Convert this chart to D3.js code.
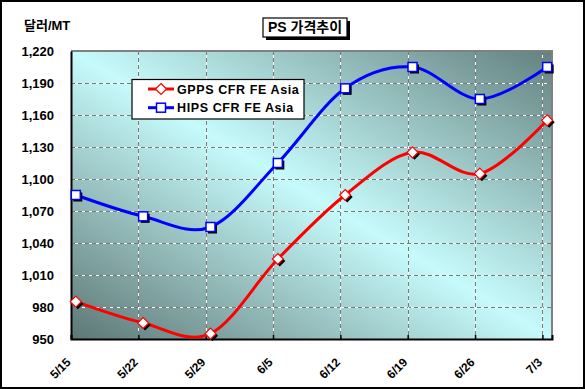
<!DOCTYPE html>
<html>
<head>
<meta charset="utf-8">
<script src="https://cdn.jsdelivr.net/npm/d3@7"></script>
<style>
  html, body { margin: 0; padding: 0; background: #fff; }
  svg { display: block; }
  text { font-family: "Liberation Sans", Arial, "Noto Sans CJK KR", sans-serif; font-weight: bold; fill: #000; }
</style>
</head>
<body>
<div id="chart"></div>
<script>
// data
const dates = ['5/15', '5/22', '5/29', '6/5', '6/12', '6/19', '6/26', '7/3'];
const gpps = [985, 965, 955, 1025, 1085, 1125, 1105, 1155];
const hips = [1085, 1065, 1055, 1115, 1185, 1205, 1175, 1205];
const yTicks = [950, 980, 1010, 1040, 1070, 1100, 1130, 1160, 1190, 1220];
const seriesNames = ['GPPS CFR FE Asia', 'HIPS CFR FE Asia'];

const W = 585, H = 389;
const plot = { left: 71, right: 552, top: 51, bottom: 339 };

const parse = d3.timeParse('%m/%d');
const day0 = parse(dates[0]);
const days = dates.map(d => d3.timeDay.count(day0, parse(d)));

const svg = d3.select('#chart').append('svg')
    .attr('width', W)
    .attr('height', H);

// outer frame
svg.append('rect')
    .attr('x', 1).attr('y', 1)
    .attr('width', W - 2).attr('height', H - 2)
    .attr('fill', '#fff')
    .attr('stroke', '#000')
    .attr('stroke-width', 2);

const x = d3.scaleLinear()
    .domain([days[0] - 0.5, days[days.length - 1] + 0.5])
    .range([plot.left, plot.right]);

const y = d3.scaleLinear()
    .domain([yTicks[0], yTicks[yTicks.length - 1]])
    .range([plot.bottom, plot.top]);

// plot background gradient
const defs = svg.append('defs');
const grad = defs.append('linearGradient')
    .attr('id', 'bg')
    .attr('x1', 0).attr('y1', 1)
    .attr('x2', 1).attr('y2', 0);
grad.append('stop').attr('offset', '0%').attr('stop-color', '#5d7775');
grad.append('stop').attr('offset', '50%').attr('stop-color', '#c6fbfb');
grad.append('stop').attr('offset', '100%').attr('stop-color', '#63817f');

svg.append('rect')
    .attr('x', plot.left).attr('y', plot.top)
    .attr('width', plot.right - plot.left)
    .attr('height', plot.bottom - plot.top)
    .attr('fill', 'url(#bg)');

// grid lines: white under grey dashes
const grid = svg.append('g');
const hLines = yTicks.slice(1);
hLines.forEach(v => {
    [['#fff', null], ['#7a7a7a', '4,3']].forEach(([c, dash]) => {
        grid.append('line')
            .attr('x1', plot.left).attr('x2', plot.right)
            .attr('y1', Math.round(y(v)) + 0.5).attr('y2', Math.round(y(v)) + 0.5)
            .attr('stroke', c)
            .attr('stroke-dasharray', dash);
    });
});
days.slice(1).forEach(d => {
    const gx = Math.round(x(d - 0.5)) + 0.5;
    [['#fff', null], ['#7a7a7a', '4,3']].forEach(([c, dash]) => {
        grid.append('line')
            .attr('x1', gx).attr('x2', gx)
            .attr('y1', plot.top).attr('y2', plot.bottom)
            .attr('stroke', c)
            .attr('stroke-dasharray', dash);
    });
});

// plot border top/right grey
svg.append('path')
    .attr('d', `M${plot.left},${plot.top}H${plot.right}V${plot.bottom}`)
    .attr('fill', 'none')
    .attr('stroke', '#808080')
    .attr('stroke-width', 2);

// axes
const yAxis = svg.append('g')
    .attr('transform', `translate(${plot.left},0)`)
    .call(d3.axisLeft(y).tickValues(yTicks).tickFormat(d3.format(',')).tickSize(0).tickPadding(17));
yAxis.select('.domain').attr('stroke', '#000').attr('stroke-width', 2);
yAxis.selectAll('text')
    .style('font-size', '13px')
    .style('font-family', '"Liberation Sans", Arial, sans-serif')
    .style('font-weight', 'bold');

const xAxis = svg.append('g')
    .attr('transform', `translate(0,${plot.bottom})`)
    .call(d3.axisBottom(x).tickValues(days.map(d => d - 0.5)).tickFormat((d, i) => dates[i]).tickSize(-4));
xAxis.select('.domain').attr('stroke', '#000').attr('stroke-width', 2);
xAxis.selectAll('.tick line').attr('stroke', '#000').attr('stroke-width', 1.5);
xAxis.selectAll('text')
    .attr('y', 0).attr('dy', 0)
    .attr('text-anchor', 'end')
    .attr('transform', 'translate(0,24) rotate(-45)')
    .style('font-size', '12px')
    .style('font-family', '"Liberation Sans", Arial, sans-serif')
    .style('font-weight', 'bold');

// y axis unit
svg.append('text')
    .attr('x', 24).attr('y', 30)
    .style('font-size', '13px')
    .text('달러/MT');

// lines
const lineGen = d3.line()
    .x((v, i) => x(days[i]))
    .y(v => y(v))
    .curve(d3.curveCardinal.tension(0));

const series = [
    { name: seriesNames[0], values: gpps, color: '#ff0000', marker: 'diamond' },
    { name: seriesNames[1], values: hips, color: '#0000ff', marker: 'square' }
];

function drawMarker(g, type, cx, cy, color, shadow) {
    if (type === 'diamond') {
        const r = 5.5;
        const p = (dx, dy) => `M${cx + dx},${cy - r + dy}L${cx + r + dx},${cy + dy}L${cx + dx},${cy + r + dy}L${cx - r + dx},${cy + dy}Z`;
        if (shadow) g.append('path').attr('d', p(2, 2)).attr('fill', '#000');
        g.append('path').attr('d', p(0, 0)).attr('fill', '#fff').attr('stroke', color).attr('stroke-width', 1.2);
    } else {
        const s = 9;
        if (shadow) g.append('rect').attr('x', cx - s / 2 + 2).attr('y', cy - s / 2 + 2).attr('width', s).attr('height', s).attr('fill', '#000');
        g.append('rect').attr('x', cx - s / 2).attr('y', cy - s / 2).attr('width', s).attr('height', s)
            .attr('fill', '#fff').attr('stroke', color).attr('stroke-width', 1.5);
    }
}

series.slice().reverse().forEach(s => {
    svg.append('path')
        .datum(s.values)
        .attr('d', lineGen)
        .attr('fill', 'none')
        .attr('stroke', s.color)
        .attr('stroke-width', 3);
});
series.forEach(s => {
    const g = svg.append('g');
    s.values.forEach((v, i) => drawMarker(g, s.marker, x(days[i]), y(v), s.color, true));
});

// legend
const legend = svg.append('g');
legend.append('rect')
    .attr('x', 132).attr('y', 79.5)
    .attr('width', 172).attr('height', 39.5)
    .attr('fill', '#fff')
    .attr('stroke', '#000')
    .attr('stroke-width', 1.2);
series.forEach((s, i) => {
    const ly = 89 + i * 18.7;
    legend.append('line')
        .attr('x1', 148).attr('x2', 174)
        .attr('y1', ly).attr('y2', ly)
        .attr('stroke', s.color)
        .attr('stroke-width', 3);
    drawMarker(legend, s.marker, 161, ly, s.color, false);
    legend.append('text')
        .attr('x', 177).attr('y', ly + 4.5)
        .style('font-size', '12.5px')
        .style('letter-spacing', '0.6px')
        .text(s.name);
});

// title box with shadow
const tb = { x: 263, y: 18, w: 84, h: 19 };
svg.append('rect')
    .attr('x', tb.x + 3).attr('y', tb.y + 3)
    .attr('width', tb.w).attr('height', tb.h)
    .attr('fill', '#000');
svg.append('rect')
    .attr('x', tb.x).attr('y', tb.y)
    .attr('width', tb.w).attr('height', tb.h)
    .attr('fill', '#fff')
    .attr('stroke', '#000')
    .attr('stroke-width', 1.2);
svg.append('text')
    .attr('x', tb.x + tb.w / 2).attr('y', tb.y + 14)
    .attr('text-anchor', 'middle')
    .style('font-size', '14px')
    .text('PS 가격추이');
</script>
</body>
</html>
